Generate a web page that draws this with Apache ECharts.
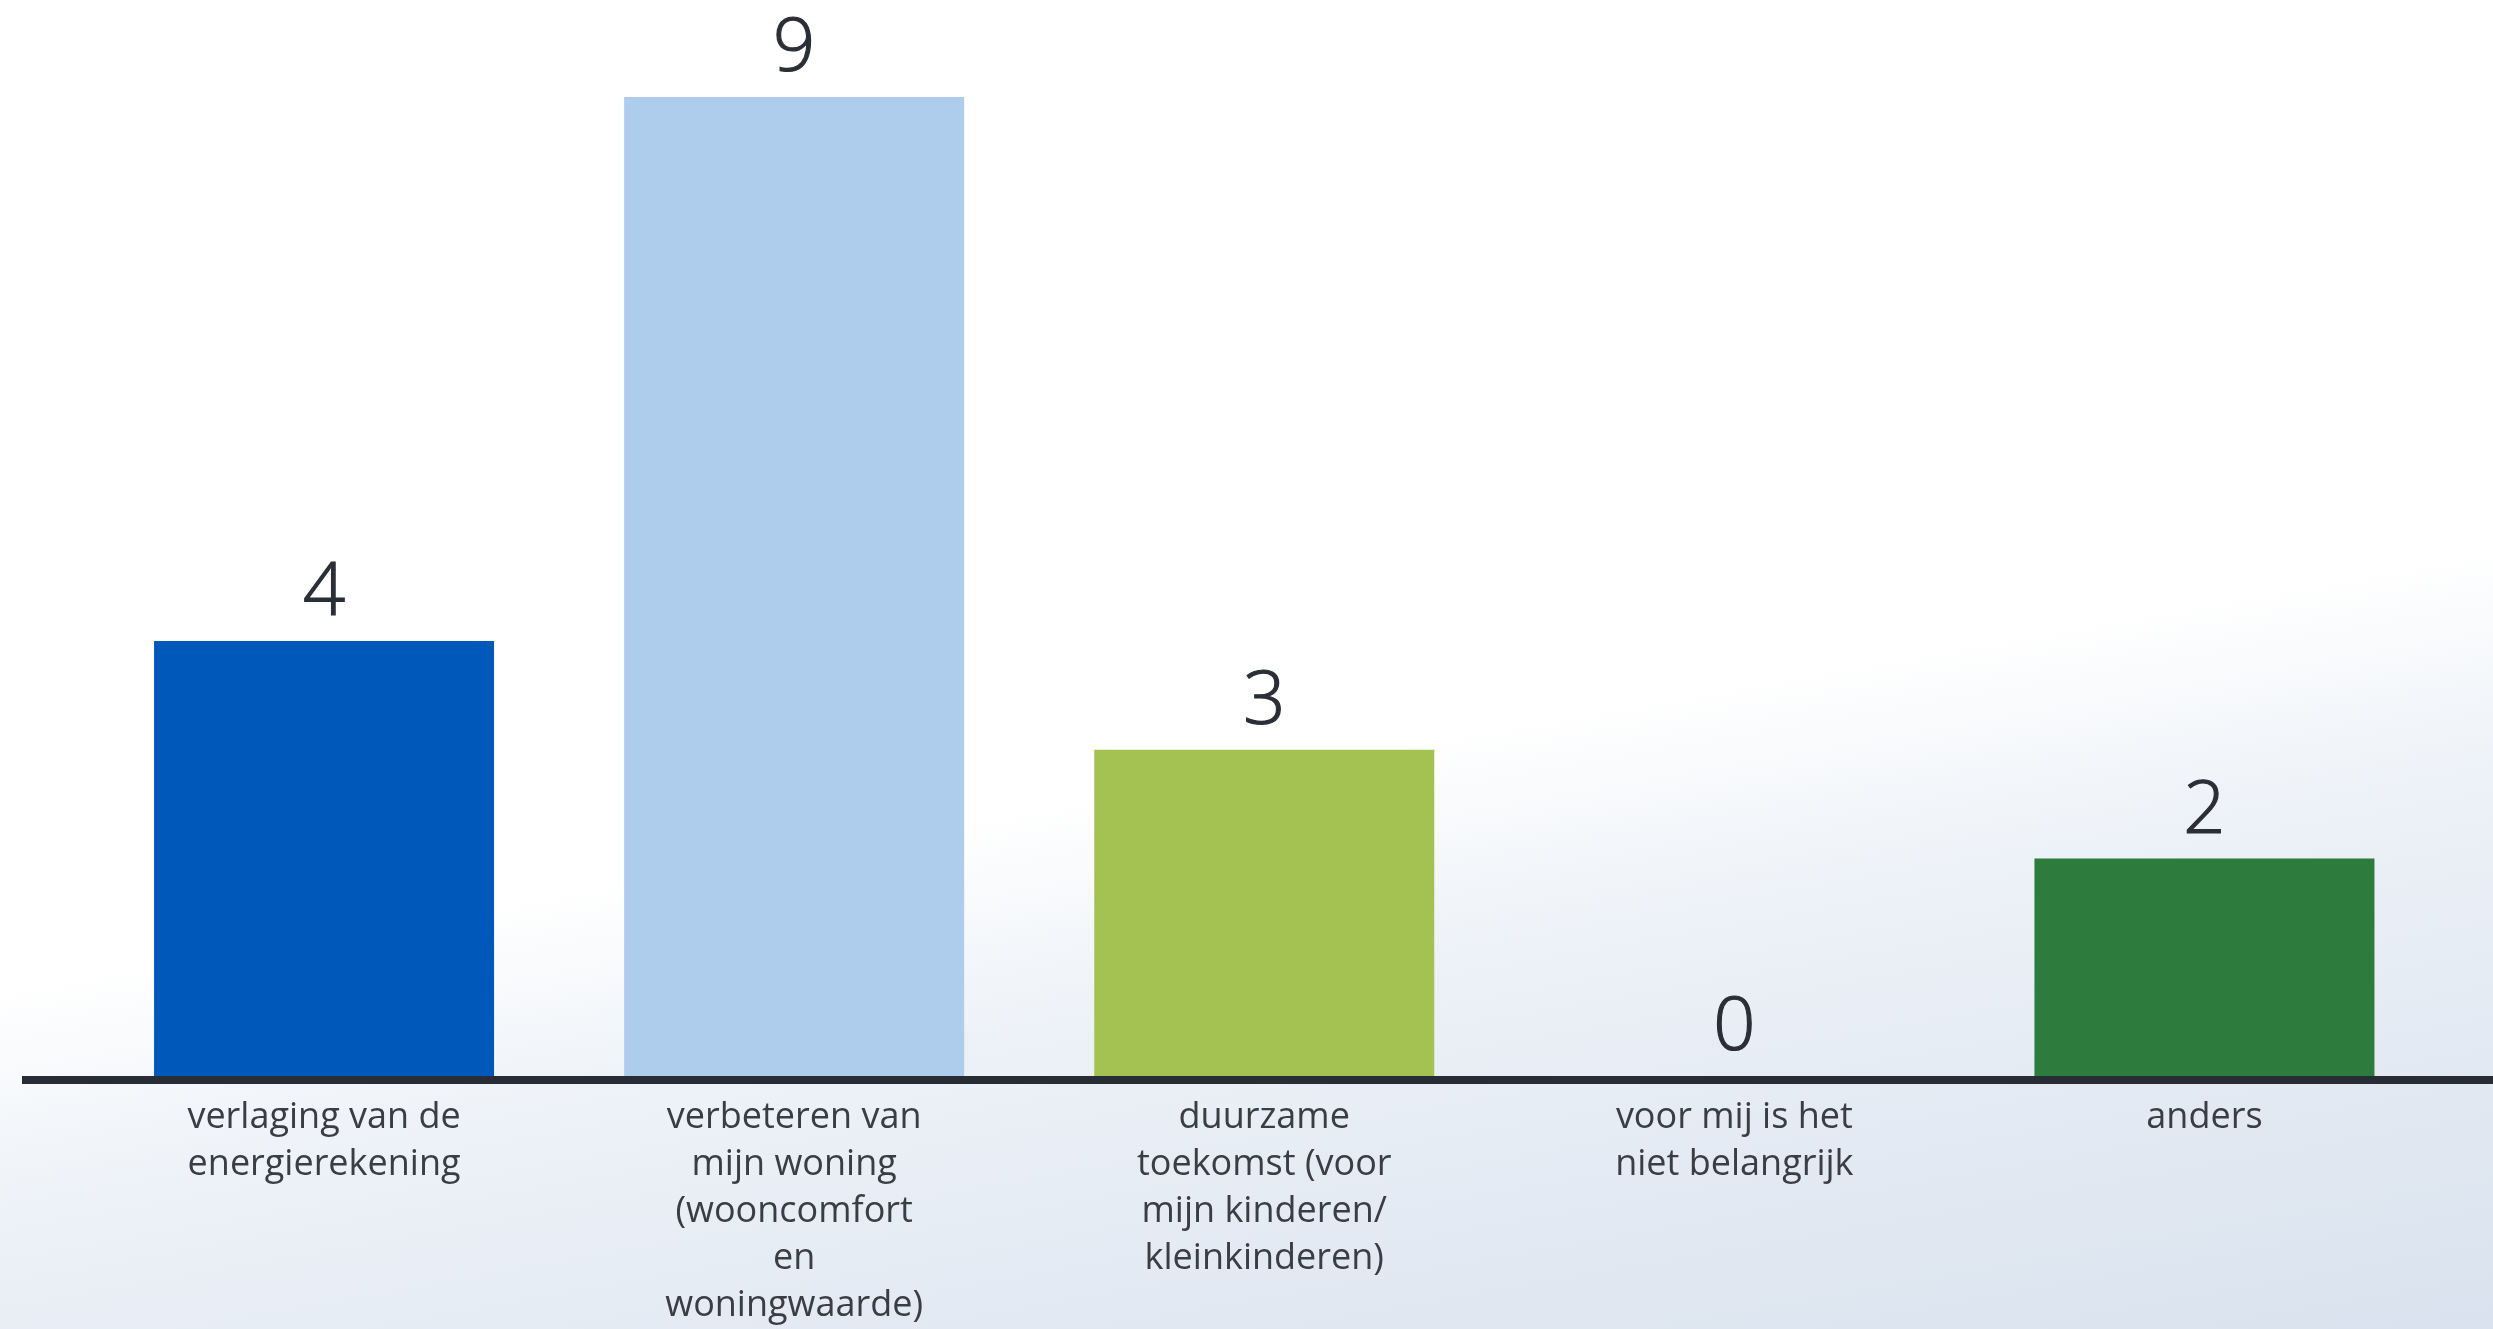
<!DOCTYPE html>
<html>
<head>
<meta charset="utf-8">
<script src="https://cdn.jsdelivr.net/npm/echarts@6/dist/echarts.min.js"></script>
<style>
  html, body { margin: 0; padding: 0; width: 2493px; height: 1329px; overflow: hidden; }
  body { background: linear-gradient(170deg, #ffffff 0%, #ffffff 56%, #eff3f8 67%, #e7edf5 77%, #d9e2ee 100%); }
  #chart { width: 2493px; height: 1329px; }
</style>
</head>
<body>
<div id="chart"></div>
<script>
const categories = [
  "verlaging van de\nenergierekening",
  "verbeteren van\nmijn woning\n(wooncomfort\nen\nwoningwaarde)",
  "duurzame\ntoekomst (voor\nmijn kinderen/\nkleinkinderen)",
  "voor mij is het\nniet belangrijk",
  "anders"
];
const values = [4, 9, 3, 0, 2];
const barColors = ["#0059BA", "#AECCEB", "#A3C252", "#A3C252", "#2E7B3E"];

const chart = echarts.init(document.getElementById('chart'), null, { renderer: 'canvas' });
const option = {
  backgroundColor: 'transparent',
  animation: false,
  grid: { left: 89, right: 53.5, top: 97, bottom: 247, containLabel: false },
  xAxis: {
    type: 'category',
    data: categories,
    axisLine: { show: false },
    axisTick: { show: false },
    axisLabel: {
      interval: 0,
      margin: 18,
      fontFamily: 'Open Sans',
      fontSize: 36,
      lineHeight: 47,
      color: '#3a3d44',
      align: 'center'
    },
    splitLine: { show: false }
  },
  yAxis: {
    type: 'value',
    min: 0,
    max: 9,
    show: false,
    splitLine: { show: false }
  },
  series: [{
    type: 'bar',
    barWidth: 340,
    data: values.map((v, i) => ({ value: v, itemStyle: { color: barColors[i] } })),
    label: {
      show: true,
      position: 'top',
      distance: 10,
      fontFamily: 'Open Sans',
      fontWeight: 300,
      fontSize: 74,
      lineHeight: 74,
      color: '#2b2e36',
      textBorderColor: '#2b2e36',
      textBorderWidth: 1.2
    }
  }]
};
chart.setOption(option);
const y0 = chart.convertToPixel({ yAxisIndex: 0 }, 0);
chart.setOption({
  graphic: [{
    type: 'line',
    z: 10,
    shape: { x1: 22, y1: y0 + 4, x2: 2493, y2: y0 + 4 },
    style: { stroke: '#272c35', lineWidth: 8 }
  }]
});
</script>
</body>
</html>
